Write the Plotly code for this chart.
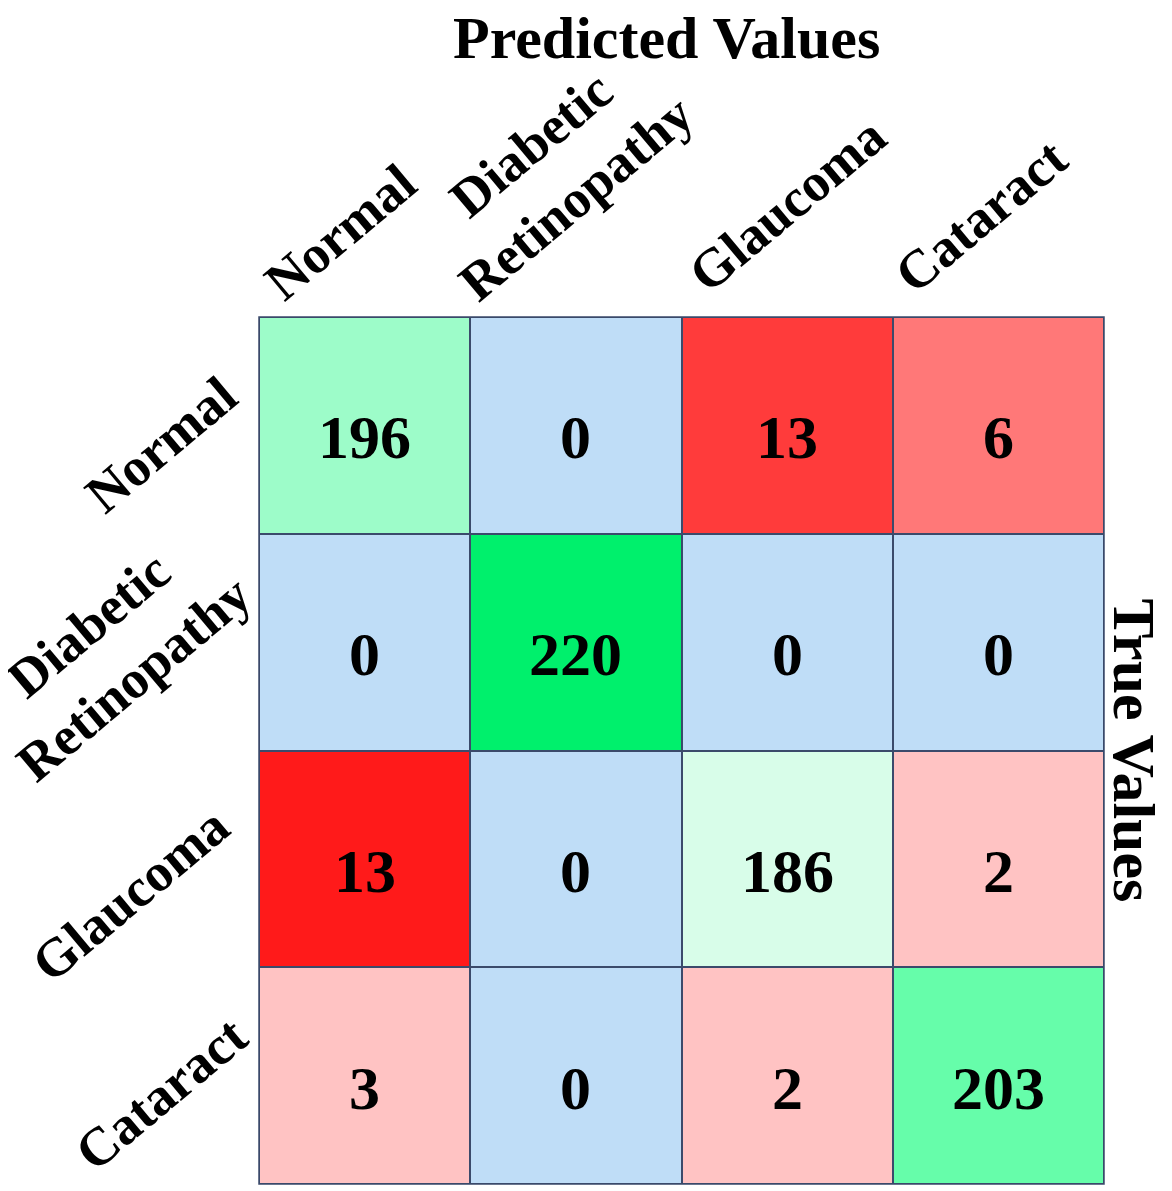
import numpy as np
import plotly.graph_objects as go

pred_labels = ["Normal", "Diabetic<br>Retinopathy", "Glaucoma", "Cataract"]
true_labels = ["Normal", "Diabetic<br>Retinopathy", "Glaucoma", "Cataract"]
counts = [
    [196, 0, 13, 6],
    [0, 220, 0, 0],
    [13, 0, 186, 2],
    [3, 0, 2, 203],
]
cell_colors = [
    ["#9dfcc9", "#bfddf7", "#ff3b3b", "#ff7878"],
    ["#bfddf7", "#00f06c", "#bfddf7", "#bfddf7"],
    ["#ff1a1a", "#bfddf7", "#d8fde9", "#ffc3c3"],
    ["#ffc3c3", "#bfddf7", "#ffc3c3", "#66fdaa"],
]

FONT = "Liberation Serif"
BORDER = "#3b4a6b"

n_rows, n_cols = len(true_labels), len(pred_labels)
flat_colors = [c for row in cell_colors for c in row]
ncell = len(flat_colors)
colorscale = [[i / (ncell - 1), c] for i, c in enumerate(flat_colors)]
zidx = np.arange(ncell).reshape(n_rows, n_cols)

fig = go.Figure(go.Heatmap(
    z=zidx, x=list(range(n_cols)), y=list(range(n_rows)),
    customdata=np.array(counts),
    colorscale=colorscale, zmin=0, zmax=ncell - 1, showscale=False,
    xgap=2, ygap=2,
    hovertemplate="Count: %{customdata}<extra></extra>",
))

ann = []
for i in range(n_rows):
    for j in range(n_cols):
        ann.append(dict(x=j, y=i, xref="x", yref="y", text=str(counts[i][j]),
                        showarrow=False, yshift=-12,
                        font=dict(family=FONT, size=62, color="black", weight="bold")))

x_shift = [-24, -22, 0, -17]
x_yshift = [85, 146, 112, 101]
for j, pl in enumerate(pred_labels):
    ann.append(dict(x=j, xref="x", y=1, yref="paper", text=pl, showarrow=False,
                    textangle=-40, xanchor="center", yanchor="middle",
                    xshift=x_shift[j], yshift=x_yshift[j], align="center",
                    font=dict(family=FONT, size=54, color="black", weight="bold")))

y_xshift = [-98, -148, -129, -98]
y_shift = [-20, -10, -36, -18]
for i, tl in enumerate(true_labels):
    ann.append(dict(x=0, xref="paper", y=i, yref="y", text=tl, showarrow=False,
                    textangle=-40, xanchor="center", yanchor="middle",
                    xshift=y_xshift[i], yshift=y_shift[i], align="center",
                    font=dict(family=FONT, size=54, color="black", weight="bold")))

ann.append(dict(x=0.5, xref="paper", y=1, yref="paper", text="Predicted Values",
                showarrow=False, xanchor="center", yanchor="middle",
                xshift=-15, yshift=279,
                font=dict(family=FONT, size=60, color="black", weight="bold")))
ann.append(dict(x=1, xref="paper", y=0.5, yref="paper", text="True Values",
                showarrow=False, xanchor="center", yanchor="middle", textangle=90,
                xshift=30,
                font=dict(family=FONT, size=60, color="black", weight="bold")))

fig.update_layout(
    width=1172, height=1191,
    margin=dict(l=251, r=76, t=309, b=15),
    paper_bgcolor="white", plot_bgcolor=BORDER,
    annotations=ann,
    shapes=[dict(type="rect", xref="paper", yref="paper", x0=0, x1=1, y0=0, y1=1,
                 line=dict(color=BORDER, width=1.5), fillcolor="rgba(0,0,0,0)")],
    xaxis=dict(showticklabels=False, showgrid=False, zeroline=False, ticks="",
               showline=False, range=[-0.5, n_cols - 0.5]),
    yaxis=dict(showticklabels=False, showgrid=False, zeroline=False, ticks="",
               range=[n_rows - 0.5, -0.5], showline=False),
)

fig.write_html("out.html")
